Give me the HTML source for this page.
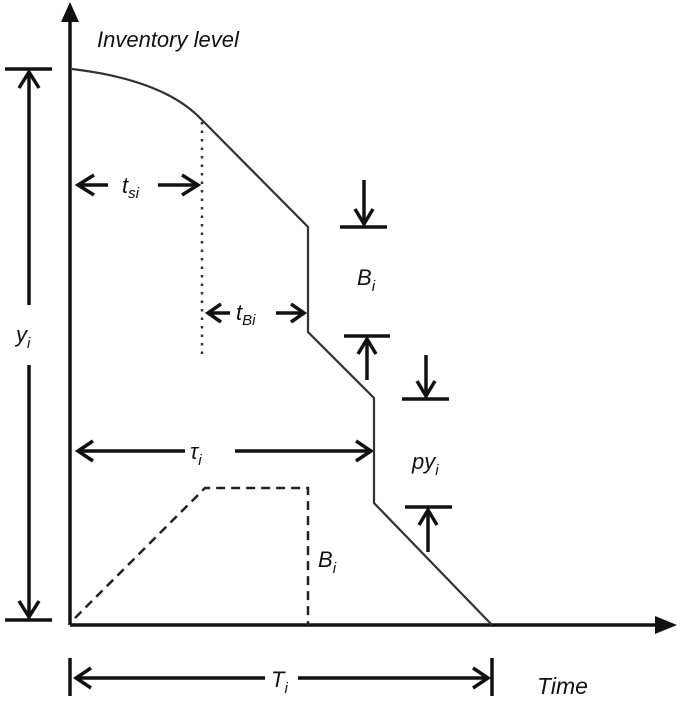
<!DOCTYPE html>
<html><head><style>body{margin:0;background:#fff}text{font-family:"Liberation Sans",sans-serif;font-style:italic;fill:#111}</style></head><body>
<svg width="685" height="704" viewBox="0 0 685 704" xmlns="http://www.w3.org/2000/svg">
<g stroke="#111" fill="none" stroke-width="3.5">
<line x1="70" y1="625" x2="70" y2="20"/>
<line x1="70" y1="625" x2="660" y2="625"/>
<line x1="5" y1="69" x2="52" y2="69"/><line x1="5" y1="620" x2="52" y2="620"/>
<line x1="29" y1="72" x2="29" y2="305"/><line x1="29" y1="365" x2="29" y2="617"/>
<polyline points="19,88 29,72 39,88"/><polyline points="19,601 29,617 39,601"/>
<line x1="78" y1="185" x2="108" y2="185"/><polyline points="94,175 78,185 94,195"/>
<line x1="158" y1="185" x2="198" y2="185"/><polyline points="182,175 198,185 182,195"/>
<line x1="208" y1="313" x2="230" y2="313"/><polyline points="221,304 208,313 221,322"/>
<line x1="276" y1="313" x2="304" y2="313"/><polyline points="291,304 304,313 291,322"/>
<line x1="340" y1="227" x2="387" y2="227"/><line x1="364" y1="180" x2="364" y2="224"/><polyline points="355,209 364,224 373,209"/>
<line x1="344" y1="336" x2="390" y2="336"/><line x1="367" y1="380" x2="367" y2="339"/><polyline points="358,354 367,339 376,354"/>
<line x1="402" y1="399" x2="449" y2="399"/><line x1="426" y1="355" x2="426" y2="396"/><polyline points="417,381 426,396 435,381"/>
<line x1="405" y1="507" x2="452" y2="507"/><line x1="428" y1="552" x2="428" y2="510"/><polyline points="419,525 428,510 437,525"/>
<line x1="78" y1="451" x2="185" y2="451"/><polyline points="93,441 78,451 93,461"/>
<line x1="235" y1="451" x2="371" y2="451"/><polyline points="356,441 371,451 356,461"/>
<line x1="70" y1="658" x2="70" y2="696"/><line x1="492" y1="658" x2="492" y2="696"/>
<line x1="76" y1="678" x2="265" y2="678"/><polyline points="91,668 76,678 91,688"/>
<line x1="298" y1="678" x2="488" y2="678"/><polyline points="473,668 488,678 473,688"/>
</g>
<polygon points="61,22 70,2 79,22" fill="#111"/>
<polygon points="655,616 677,625 655,634" fill="#111"/>
<path d="M72,69 Q165,80 202,120 L308,227 L308,332 L374,398 L374,503 L492,625" stroke="#333" stroke-width="2.2" fill="none"/>
<line x1="202" y1="122" x2="202" y2="360" stroke="#333" stroke-width="2.5" stroke-dasharray="2.5,6"/>
<path d="M75,618 L205,488 L308,488 L308,625" stroke="#222" stroke-width="2.5" fill="none" stroke-dasharray="9,6"/>
<text x="97" y="47" font-size="22">Inventory level</text>
<text x="122" y="193" font-size="22">t<tspan font-size="15" dy="5">si</tspan></text>
<text x="236" y="320" font-size="22">t<tspan font-size="15" dy="5">Bi</tspan></text>
<text x="357" y="285" font-size="22">B<tspan font-size="15" dy="6">i</tspan></text>
<text x="412" y="469" font-size="22">py<tspan font-size="15" dy="6">i</tspan></text>
<text x="190" y="459" font-size="22" font-style="normal">τ<tspan font-size="15" dy="6" font-style="italic">i</tspan></text>
<text x="318" y="567" font-size="22">B<tspan font-size="15" dy="6">i</tspan></text>
<text x="16" y="342" font-size="22">y<tspan font-size="15" dy="6">i</tspan></text>
<text x="271" y="687" font-size="22">T<tspan font-size="15" dy="6">i</tspan></text>
<text x="537" y="694" font-size="23">Time</text>
</svg>
</body></html>
